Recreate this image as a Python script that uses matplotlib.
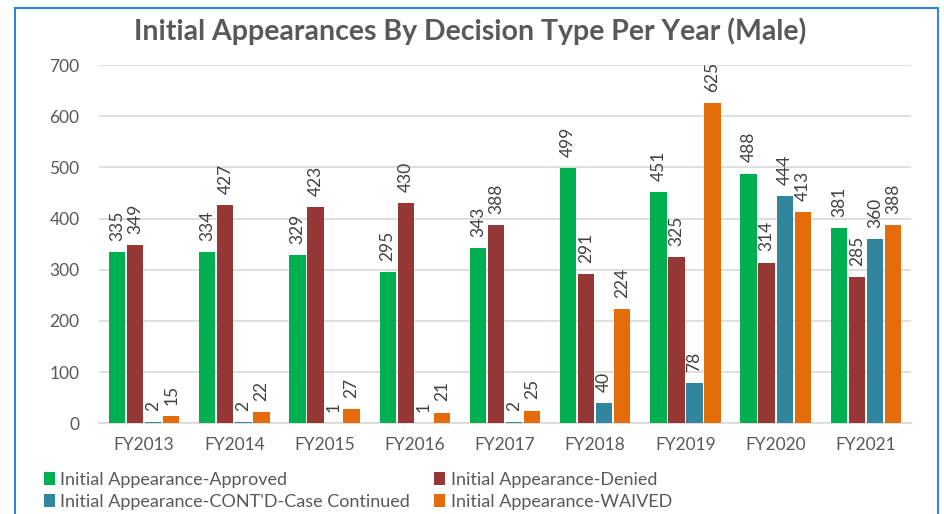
import matplotlib
matplotlib.use("Agg")
import matplotlib.pyplot as plt
import numpy as np
from matplotlib.patches import Rectangle

categories = ["FY2013", "FY2014", "FY2015", "FY2016", "FY2017", "FY2018", "FY2019", "FY2020", "FY2021"]
approved = [335, 334, 329, 295, 343, 499, 451, 488, 381]
denied = [349, 427, 423, 430, 388, 291, 325, 314, 285]
continued = [2, 2, 1, 1, 2, 40, 78, 444, 360]
waived = [15, 22, 27, 21, 25, 224, 625, 413, 388]

series = [
    ("Initial Appearance-Approved", approved, "#00B050"),
    ("Initial Appearance-Denied", denied, "#953735"),
    ("Initial Appearance-CONT'D-Case Continued", continued, "#31859C"),
    ("Initial Appearance-WAIVED", waived, "#E46C0A"),
]

plt.rcParams['font.family'] = ['Lato', 'DejaVu Sans']
W, H = 945, 514
fig = plt.figure(figsize=(W / 100, H / 100), dpi=100)
ax = fig.add_axes([99 / W, 1 - 423.3 / H, (911 - 99) / W, (423.3 - 65) / H])

x = np.arange(len(categories))
step = 0.2
handles = []
for i, (name, vals, col) in enumerate(series):
    off = (i - 1.5) * step
    bars = ax.bar(x + off, vals, width=0.181, color=col, linewidth=0, label=name, zorder=3)
    handles.append(bars)
    for xi, v in zip(x + off, vals):
        ax.annotate(str(v), (xi, v), xytext=(0, 8), textcoords="offset points",
                    rotation=90, ha="center", va="bottom", fontsize=12.5, color="#404040")

ax.set_xlim(-0.5, len(categories) - 0.5)
ax.set_ylim(0, 700)
ax.set_yticks(range(0, 701, 100))
ax.set_xticks(x)
ax.set_xticklabels(categories)
ax.tick_params(axis="both", length=0, labelsize=12.5, labelcolor="#595959")
ax.tick_params(axis="y", pad=14)
ax.tick_params(axis="x", pad=10)
ax.grid(axis="y", color="#D9D9D9", linewidth=1.2, zorder=0)
for s in ["top", "right", "left"]:
    ax.spines[s].set_visible(False)
ax.spines["bottom"].set_color("#D9D9D9")
ax.spines["bottom"].set_linewidth(1.2)
ax.spines["bottom"].set_zorder(1)

fig.text(470 / W, 1 - 31 / H, "Initial Appearances By Decision Type Per Year (Male)",
         ha="center", va="center", fontsize=20.5, fontweight="bold", color="#595959")

order = [0, 2, 1, 3]
leg = fig.legend(handles=[handles[k] for k in order], loc="upper left", bbox_to_anchor=(44 / W, 1 - 472 / H),
                 ncol=2, frameon=False, fontsize=13, labelcolor="#595959",
                 handlelength=0.6, handleheight=0.7, handletextpad=0.3,
                 columnspacing=1.35, labelspacing=0.32, borderaxespad=0, borderpad=0)

fig.patches.append(Rectangle((15 / W, -0.05), (938 - 15) / W, 1.05 - 8 / H, transform=fig.transFigure,
                             fill=False, edgecolor="#2E86DE", linewidth=1.5))

fig.savefig("out.png", dpi=100)
